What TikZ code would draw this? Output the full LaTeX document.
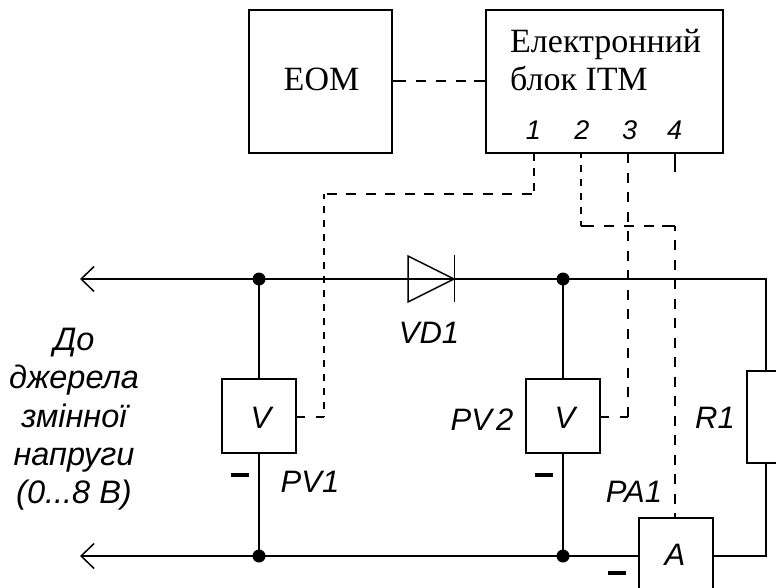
\documentclass[tikz,border=0pt]{standalone}
\usepackage{fontspec}
\setmainfont{Liberation Serif}
\setsansfont{Liberation Sans}
\usetikzlibrary{arrows.meta}

\tikzset{
  wire/.style={line width=2.1pt},
  sigfine/.style={line width=2pt, dash pattern=on 10pt off 9.5pt},
  sigtight/.style={line width=2pt, dash pattern=on 7pt off 7pt},
  sigstub/.style={line width=2pt, dash pattern=on 8.5pt off 10.5pt},
  link/.style={line width=1.1pt, dash pattern=on 13pt off 10pt on 10pt off 10pt on 10pt off 10pt on 10pt off 8pt on 13pt},
  block/.style={draw, line width=2.1pt, inner sep=0pt, minimum width=#1, minimum height=143pt},
  meter/.style={draw, line width=1.8pt, inner sep=0pt, minimum width=74pt, minimum height=74pt},
  lbl/.style={anchor=base, inner sep=0pt, font=\sffamily\itshape\fontsize{31}{31}\selectfont},
  srctxt/.style={anchor=base, inner sep=0pt, font=\sffamily\itshape\fontsize{32.5}{33}\selectfont},
  pin/.style={anchor=base, inner sep=0pt, font=\sffamily\itshape\fontsize{27}{27}\selectfont},
  txt/.style={anchor=base west, inner sep=0pt, font=\fontsize{34}{34}\selectfont},
  dot/.style={circle, fill, inner sep=0pt, minimum size=13pt},
  minus/.style={fill, inner sep=0pt, minimum width=18pt, minimum height=4.5pt},
  diodeline/.style={line width=1.5pt},
  barb/.style={-{Straight Barb[length=13pt,width=25pt,line width=1.5pt]}},
}

\begin{document}
\begin{tikzpicture}[x=1pt,y=-1pt]
  \useasboundingbox (0,0) rectangle (776,587);
  \clip (0,0) rectangle (776,587);
  \fill[white] (0,0) rectangle (776,587);

  \node[block=143pt] (EOM) at (320.5,81.5) {};
  \node[txt, anchor=base] (EOMtxt) at (321.5,90) {EOM};
  \node[block=237pt] (ITM) at (604.5,81.5) {};
  \node[txt] (ITMa) at (510,52.5) {Електронний};
  \node[txt] (ITMb) at (510,90) {блок ІТМ};

  \node[pin] (Pa) at (533.5,139) {1};
  \node[pin] (Pb) at (582,139) {2};
  \node[pin] (Pc) at (629.5,139) {3};
  \node[pin] (Pd) at (674.5,139) {4};
  \coordinate (Ta) at (534,153);
  \coordinate (Tb) at (581,153);
  \coordinate (Tc) at (628,153);
  \coordinate (Td) at (675,153);
  \coordinate (TdEnd) at (675,172);

  \node[meter] (PVa) at (259,416) {};
  \node[meter] (PVb) at (563,416) {};
  \node[meter] (PAa) at (676,555) {};
  \node[draw, line width=1.8pt, inner sep=0pt, minimum width=38pt, minimum height=92pt] (Rone) at (766,417) {};
  \node[lbl] (VTa) at (261,428) {V};
  \node[lbl] (VTb) at (565,428) {V};
  \node[lbl] (ATa) at (675,565) {A};

  \node[dot] (DotA) at (259,279) {};
  \node[dot] (DotB) at (563,279) {};
  \node[dot] (DotC) at (259,556) {};
  \node[dot] (DotD) at (563,556) {};

  \coordinate (TopEnd) at (80,279);
  \coordinate (BotEnd) at (80,556);
  \coordinate (DiodeTip) at (454,279);
  \coordinate (CornerTop) at (766,279);
  \coordinate (CornerBot) at (766,556);
  \coordinate (SigAa) at (534,194);
  \coordinate (SigAb) at (324,194);
  \coordinate (SigAc) at (324,417);
  \coordinate (SigBa) at (581,226);
  \coordinate (SigBb) at (675,226);
  \coordinate (SigCa) at (628,417);

  % power wiring
  \draw[wire, barb] (DotA.center) -- (TopEnd);
  \draw[wire, barb] (DotC.center) -- (BotEnd);
  \draw[wire] (DotA.center) -- (DotB.center) -- (CornerTop) -- (Rone.north -| CornerTop);
  \draw[wire] (Rone.south -| CornerTop) -- (CornerBot) -- (PAa.east |- CornerBot);
  \draw[wire] (DotC.center) -- (DotD.center) -- (PAa.west |- DotD);
  \draw[wire] (DotA.center) -- (PVa.north);
  \draw[wire] (PVa.south) -- (DotC.center);
  \draw[wire] (DotB.center) -- (PVb.north);
  \draw[wire] (PVb.south) -- (DotD.center);

  % diode
  \draw[diodeline] (408,256) -- (DiodeTip) -- (408,302) -- cycle;
  \draw[diodeline] (454.5,255) -- (454.5,302);

  % signal lines
  \draw[link] (EOM.east |- 0,81) -- (ITM.west |- 0,81);
  \draw[wire, line width=1.7pt] (Td) -- (TdEnd);
  \draw[sigtight, dash pattern=on 8pt off 7pt] (Ta) -- (SigAa);
  \draw[sigfine, dash phase=17pt] (SigAa) -- (SigAb);
  \draw[sigtight, dash phase=2pt] (SigAb) -- (SigAc);
  \draw[sigstub] (SigAc) -- (PVa.east |- SigAc);
  \draw[sigtight, dash phase=2pt] (Tb) -- (SigBa);
  \draw[sigfine, dash pattern=on 13pt off 10pt on 10pt off 10pt on 10pt off 10pt on 10pt off 8pt on 13pt] (SigBa) -- (SigBb);
  \draw[sigfine, dash phase=5.5pt] (SigBb) -- (PAa.north -| SigBb);
  \draw[sigfine] (Tc) -- (SigCa);
  \draw[sigstub] (SigCa) -- (PVb.east |- SigCa);

  \node[minus] (MinA) at (240,475) {};
  \node[minus] (MinB) at (544,475) {};
  \node[minus] (MinC) at (617,573) {};

  \node[lbl] (LabPVa) at (310,492) {PV1};
  \node[lbl] (LabVD) at (429,343) {VD1};
  \node[lbl] (LabPVb) at (482,430) {PV\hspace{4pt}2};
  \node[lbl] (LabR) at (715,428) {R1};
  \node[lbl] (LabPA) at (634,502) {PA1};

  \node[srctxt] (SrcA) at (74,350) {До};
  \node[srctxt] (SrcB) at (74,388) {джерела};
  \node[srctxt] (SrcC) at (74,427) {змінної};
  \node[srctxt] (SrcD) at (74,465) {напруги};
  \node[srctxt] (SrcE) at (74,503) {(0...8 В)};
\end{tikzpicture}
\end{document}
